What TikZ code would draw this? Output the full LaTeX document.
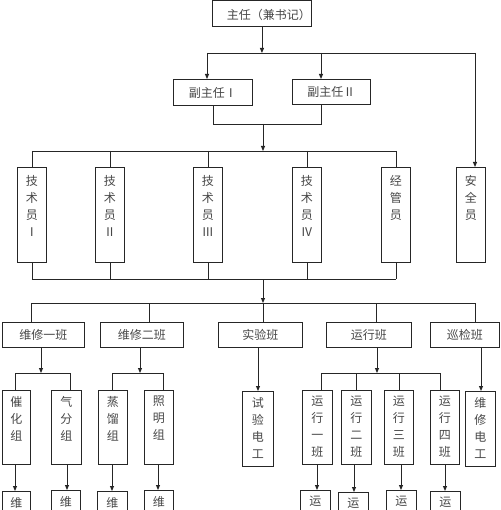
\documentclass[tikz,border=0pt]{standalone}
\usepackage{fontspec}
\newfontfamily\cjk{Noto Sans CJK SC}
\usetikzlibrary{arrows.meta,calc}
\tikzset{
  bx/.style={draw=black!85, line width=0.9pt, inner sep=0pt, anchor=north west},
  tx/.style={text=black!72, font=\cjk\fontsize{12}{17}\selectfont, align=center, inner sep=0pt},
  ln/.style={draw=black!85, line width=0.9pt},
  ar/.style={ln, -{Triangle[length=5pt,width=4pt]}},
}
\newcommand\hbx[6]{%
  \node[bx,minimum width={(#4-#2)*1pt},minimum height={(#5-#3)*1pt}] (#1) at (#2,#3) {};
  \node[tx] (#1t) at (#1.center) {#6};}
\newcommand\vbx[7]{%
  \node[bx,minimum width={(#4-#2)*1pt},minimum height={(#5-#3)*1pt}] (#1) at (#2,#3) {};
  \node[tx,anchor=north] (#1t) at ($(#1.north)+(0,#7)$) {#6};}
\begin{document}
\begin{tikzpicture}[x=1pt,y=-1pt]
\clip (0,0) rectangle (500,510);
\fill[white] (0,0) rectangle (500,510);
% top
\node[bx,minimum width=99pt,minimum height=26pt] (top) at (212,0) {};
\node[tx] (topt) at ($(top.center)+(7,1)$) {主任（兼书记）};
\hbx{d1}{173}{79}{252}{105}{副主任Ⅰ}
\hbx{d2}{292}{79}{370}{104}{副主任Ⅱ}
% staff row
\vbx{t1}{17}{167}{46}{262}{技\\术\\员\\Ⅰ}{8}
\vbx{t2}{95}{167}{124}{262}{技\\术\\员\\Ⅱ}{8}
\vbx{t3}{193}{167}{222}{262}{技\\术\\员\\Ⅲ}{8}
\vbx{t4}{292}{167}{321}{262}{技\\术\\员\\Ⅳ}{8}
\vbx{jg}{381}{167}{410}{262}{经\\管\\员}{8}
\vbx{aq}{456}{167}{485}{262}{安\\全\\员}{8}
% class row
\hbx{w1}{2}{322}{84}{347}{维修一班}
\hbx{w2}{100}{322}{183}{347}{维修二班}
\hbx{sy}{218}{322}{302}{347}{实验班}
\hbx{yx}{326}{322}{411}{347}{运行班}
\hbx{xj}{430}{322}{499}{347}{巡检班}
% groups
\vbx{g1}{2}{390}{30}{464}{催\\化\\组}{6}
\vbx{g2}{51}{390}{81}{464}{气\\分\\组}{6}
\vbx{g3}{98}{390}{127}{464}{蒸\\馏\\组}{6}
\vbx{g4}{144}{390}{173}{464}{照\\明\\组}{6}
\vbx{sg}{242}{391}{273}{466}{试\\验\\电\\工}{6}
\vbx{r1}{302}{390}{332}{464}{运\\行\\一\\班}{6}
\vbx{r2}{341}{390}{371}{464}{运\\行\\二\\班}{6}
\vbx{r3}{384}{390}{413}{464}{运\\行\\三\\班}{6}
\vbx{r4}{430}{390}{459}{464}{运\\行\\四\\班}{6}
\vbx{xg}{465}{391}{495}{466}{维\\修\\电\\工}{6}
% bottom (cut) boxes
\vbx{b1}{2}{491}{30}{560}{维}{6}
\vbx{b2}{51}{490}{80}{560}{维}{6}
\vbx{b3}{97}{491}{127}{560}{维}{6}
\vbx{b4}{144}{490}{173}{560}{维}{6}
\vbx{q1}{300}{490}{330}{560}{运}{6}
\vbx{q2}{338}{492}{368}{560}{运}{6}
\vbx{q3}{386}{490}{416}{560}{运}{6}
\vbx{q4}{430}{491}{460}{560}{运}{6}
% coordinates
\coordinate (j1) at (262,53);
\coordinate (h1l) at (207,53);
\coordinate (h1m) at (321,53);
\coordinate (h1r) at (475,53);
\coordinate (c1) at (213,124);
\coordinate (c2) at (321,124);
\coordinate (c3) at (263,124);
\coordinate (j2) at (263,151);
\coordinate (j3) at (263,279);
\coordinate (j4) at (263,303);
\coordinate (p1) at (31,303);
\coordinate (p2) at (149,303);
\coordinate (p4) at (376,303);
\coordinate (p5) at (475,303);
\coordinate (k1) at (41,373);
\coordinate (k1l) at (15,373);
\coordinate (k1r) at (70,373);
\coordinate (k2) at (140,373);
\coordinate (k2l) at (112,373);
\coordinate (k2r) at (163,373);
\coordinate (k3) at (258,347);
\coordinate (k4) at (377,373);
\coordinate (k4a) at (321,373);
\coordinate (k4b) at (356,373);
\coordinate (k4c) at (399,373);
\coordinate (k4d) at (440,373);
\coordinate (k5) at (481,347);
% top connectors
\draw[ar] (top.south) -- (top.south |- j1);
\draw[ln] (h1l) -- (h1r);
\draw[ar] (h1l) -- (h1l |- d1.north);
\draw[ar] (h1m) -- (h1m |- d2.north);
\draw[ar] (h1r) -- (h1r |- aq.north);
\draw[ln] (d1.south -| c1) -- (c1) -- (c2) -- (d2.south -| c2);
\draw[ar] (c3) -- (j2);
% staff row
\draw[ln] (t1.north |- j2) -- (jg.north |- j2);
\foreach \n in {t1,t2,t3,t4,jg}{\draw[ln] (\n.north |- j2) -- (\n.north);}
\draw[ln] (t1.south |- j3) -- (jg.south |- j3);
\foreach \n in {t1,t2,t3,t4,jg}{\draw[ln] (\n.south) -- (\n.south |- j3);}
\draw[ar] (j3) -- (j4);
% class row
\draw[ln] (p1) -- (p5);
\draw[ln] (p1) -- (p1 |- w1.north);
\draw[ln] (p2) -- (p2 |- w2.north);
\draw[ln] (j4) -- (j4 |- sy.north);
\draw[ln] (p4) -- (p4 |- yx.north);
\draw[ln] (p5) -- (p5 |- xj.north);
% groups
\draw[ar] (k1 |- w1.south) -- (k1);
\draw[ln] (k1l) -- (k1r);
\draw[ln] (k1l) -- (k1l |- g1.north);
\draw[ln] (k1r) -- (k1r |- g2.north);
\draw[ar] (k2 |- w2.south) -- (k2);
\draw[ln] (k2l) -- (k2r);
\draw[ln] (k2l) -- (k2l |- g3.north);
\draw[ln] (k2r) -- (k2r |- g4.north);
\draw[ar] (k3) -- (k3 |- sg.north);
\draw[ar] (k4 |- yx.south) -- (k4);
\draw[ln] (k4a) -- (k4d);
\draw[ln] (k4a) -- (k4a |- r1.north);
\draw[ln] (k4b) -- (k4b |- r2.north);
\draw[ln] (k4c) -- (k4c |- r3.north);
\draw[ln] (k4d) -- (k4d |- r4.north);
\draw[ar] (k5) -- (k5 |- xg.north);
% bottom arrows
\coordinate (m1) at (15,464);
\coordinate (m2) at (67,464);
\coordinate (m3) at (112,464);
\coordinate (m4) at (158,464);
\coordinate (n1) at (317,464);
\coordinate (n2) at (354,464);
\coordinate (n3) at (401,464);
\coordinate (n4) at (445,464);
\draw[ar] (m1 |- g1.south) -- (m1 |- b1.north);
\draw[ar] (m2 |- g2.south) -- (m2 |- b2.north);
\draw[ar] (m3 |- g3.south) -- (m3 |- b3.north);
\draw[ar] (m4 |- g4.south) -- (m4 |- b4.north);
\draw[ar] (n1 |- r1.south) -- (n1 |- q1.north);
\draw[ar] (n2 |- r2.south) -- (n2 |- q2.north);
\draw[ar] (n3 |- r3.south) -- (n3 |- q3.north);
\draw[ar] (n4 |- r4.south) -- (n4 |- q4.north);
\end{tikzpicture}
\end{document}
